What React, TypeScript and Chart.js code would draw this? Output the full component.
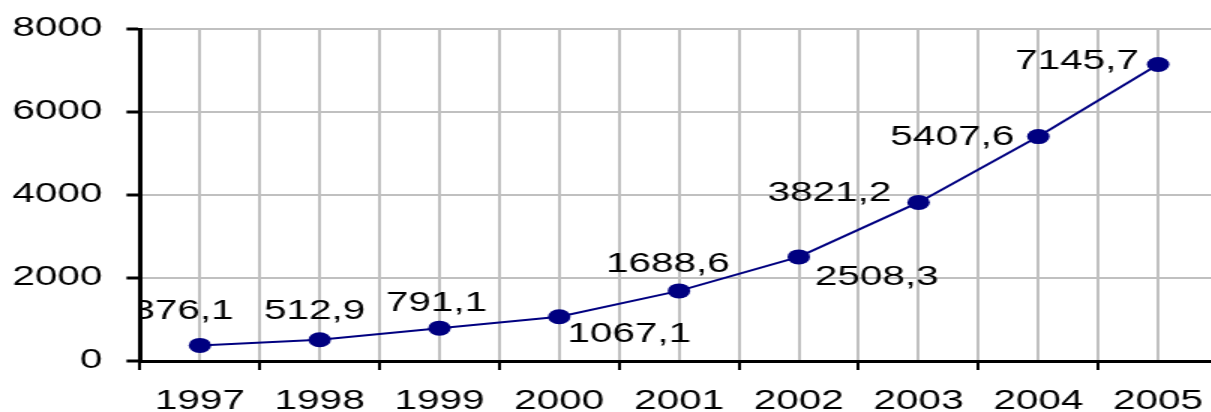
import React, { useEffect, useRef } from 'react';
import { Chart, registerables } from 'chart.js';

Chart.register(...registerables);

// ---- data ----
const years = ['1997', '1998', '1999', '2000', '2001', '2002', '2003', '2004', '2005'];
const values = [376.1, 512.9, 791.1, 1067.1, 1688.6, 2508.3, 3821.2, 5407.6, 7145.7];
const valueLabels = ['376,1', '512,9', '791,1', '1067,1', '1688,6', '2508,3', '3821,2', '5407,6', '7145,7'];
const yMin = 0;
const yMax = 8000;
const yStep = 2000;

// ---- label placement (screen px: centre dx, baseline dy relative to point) ----
const labelOffsets: [number, number][] = [
  [-17, -26],
  [-5, -21],
  [-3, -17],
  [70, 25],
  [-11, -19],
  [78, 28],
  [-89, -1],
  [-86, 8],
  [-81, 5],
];

// The reference is a horizontally stretched image; render narrower and stretch.
const SX = 1.5;
const W = 816;
const H = 412;
const FONT = 'Liberation Sans, Arial, sans-serif';
const FONT_SIZE = 27;
const GRID = '#c0c0c0';
const NAVY = '#000080';

const dataLabelPlugin = {
  id: 'valueLabels',
  afterDatasetsDraw(chart: any) {
    const { ctx, chartArea } = chart;
    const meta = chart.getDatasetMeta(0);
    ctx.save();
    ctx.beginPath();
    ctx.rect(chartArea.left, 0, chartArea.right - chartArea.left, chartArea.bottom);
    ctx.clip();
    ctx.font = `${FONT_SIZE}px ${FONT}`;
    ctx.fillStyle = '#000000';
    ctx.textAlign = 'center';
    ctx.textBaseline = 'alphabetic';
    meta.data.forEach((pt: any, i: number) => {
      const [dx, dy] = labelOffsets[i];
      ctx.fillText(valueLabels[i], pt.x + dx / SX, pt.y + dy);
    });
    ctx.restore();
  },
};

export default function App() {
  const canvasRef = useRef<HTMLCanvasElement | null>(null);

  useEffect(() => {
    document.body.style.margin = '0';
    const canvas = canvasRef.current;
    if (!canvas) return;
    Chart.defaults.font.family = FONT;
    Chart.defaults.font.size = FONT_SIZE;
    Chart.defaults.color = '#000000';

    const chart = new Chart(canvas, {
      type: 'line',
      data: {
        labels: years,
        datasets: [
          {
            data: values,
            borderColor: NAVY,
            backgroundColor: NAVY,
            borderWidth: 2,
            pointRadius: 7.5,
            pointHoverRadius: 7.5,
            pointBackgroundColor: NAVY,
            pointBorderWidth: 0,
            pointStyle: 'circle',
            tension: 0,
            fill: false,
            xAxisID: 'x',
            yAxisID: 'y',
          },
        ],
      },
      options: {
        animation: false,
        responsive: false,
        devicePixelRatio: 1,
        events: [],
        layout: { autoPadding: false, padding: { top: 29, right: 4, bottom: 0, left: 0 } },
        plugins: {
          legend: { display: false },
          tooltip: { enabled: false },
          title: { display: false },
        },
        scales: {
          x: {
            type: 'category',
            position: 'bottom',
            offset: true,
            grid: {
              offset: true,
              color: GRID,
              lineWidth: 2,
              drawTicks: true,
              tickLength: 9,
              tickColor: '#000000',
              tickWidth: 2,
              z: -1,
            },
            border: { display: true, color: '#000000', width: 3, z: 1 },
            ticks: {
              color: '#000000',
              padding: 15,
              maxRotation: 0,
              autoSkip: false,
              font: { family: FONT, size: FONT_SIZE },
            },
            afterFit(scale: any) {
              scale.height = H - 361;
              scale.paddingLeft = 0;
              scale.paddingRight = 0;
            },
          },
          x2: {
            type: 'category',
            position: 'bottom',
            offset: true,
            grid: {
              offset: false,
              color: GRID,
              lineWidth: 2,
              drawTicks: false,
              z: -1,
            },
            border: { display: false },
            ticks: { display: false },
          },
          y: {
            type: 'linear',
            position: 'left',
            min: yMin,
            max: yMax,
            ticks: {
              stepSize: yStep,
              color: '#000000',
              padding: 16,
              font: { family: FONT, size: FONT_SIZE },
              callback: (v: any) => String(v),
            },
            grid: {
              color: GRID,
              lineWidth: 2,
              drawTicks: true,
              tickLength: 9,
              tickColor: '#000000',
              tickWidth: 3,
              z: -1,
            },
            border: { display: true, color: '#000000', width: 3, z: 1 },
            afterFit(scale: any) {
              scale.width = 140 / SX;
              scale.paddingTop = 0;
              scale.paddingBottom = 0;
            },
          },
        },
      },
      plugins: [dataLabelPlugin],
    });

    return () => {
      chart.destroy();
    };
  }, []);

  return (
    <div
      style={{
        position: 'fixed',
        left: 0,
        top: 0,
        width: '1211px',
        height: `${H}px`,
        overflow: 'hidden',
        background: '#ffffff',
      }}
    >
      <canvas
        ref={canvasRef}
        width={W}
        height={H}
        style={{ width: `${W * SX}px`, height: `${H}px`, display: 'block' }}
      />
    </div>
  );
}
